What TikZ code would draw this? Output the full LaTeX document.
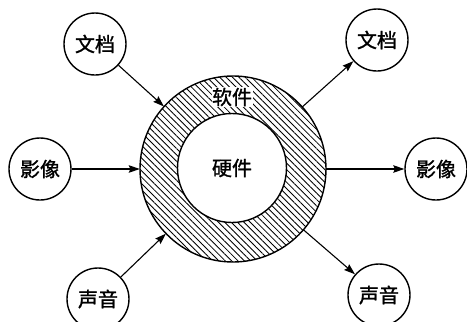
\documentclass[tikz,border=0pt]{standalone}
\usepackage{fontspec}
\newfontfamily\cjk[FakeBold=1.2]{Noto Sans CJK SC}
\usetikzlibrary{arrows.meta,patterns.meta}
\begin{document}
\begin{tikzpicture}[x=1pt,y=-1pt,
  every node/.style={font=\cjk\fontsize{20}{22}\selectfont},
  item/.style={draw,circle,line width=1.4pt,minimum size=62pt,inner sep=0pt},
  ring/.style={circle,minimum size=186pt,inner sep=0pt},
  link/.style={line width=1.1pt,-{Stealth[length=11pt,width=7.5pt,inset=1.5pt]}}]
\useasboundingbox (0,0) rectangle (467,322);
\fill[white] (0,0) rectangle (467,322);
% hatched ring
\fill[even odd rule,pattern={Lines[angle=-45,distance=4.5pt,line width=0.85pt]}]
  (233,169) circle[radius=93] (232,168) circle[radius=54.5];
\draw[line width=1.4pt] (233,169) circle[radius=93];
\draw[line width=1.4pt] (232,168) circle[radius=54.5];
\node[ring] (ring) at (233,169) {};
\node[fill=white,inner sep=0.5pt] (soft) at (232,97) {软件};
\node (hard) at (232,168) {硬件};
% input and output items
\node[item] (tl) at (95,44) {文档};
\node[item] (ml) at (40,169) {影像};
\node[item] (bl) at (98,299) {声音};
\node[item] (tr) at (377,40) {文档};
\node[item] (mr) at (436,169) {影像};
\node[item] (br) at (379,295) {声音};
% connectors
\draw[link] (tl) -- (ring);
\draw[link] (ml) -- (ring);
\draw[link] (bl) -- (ring);
\draw[link] (ring) -- (tr);
\draw[link] (ring) -- (mr);
\draw[link] (ring) -- (br);
\end{tikzpicture}
\end{document}
